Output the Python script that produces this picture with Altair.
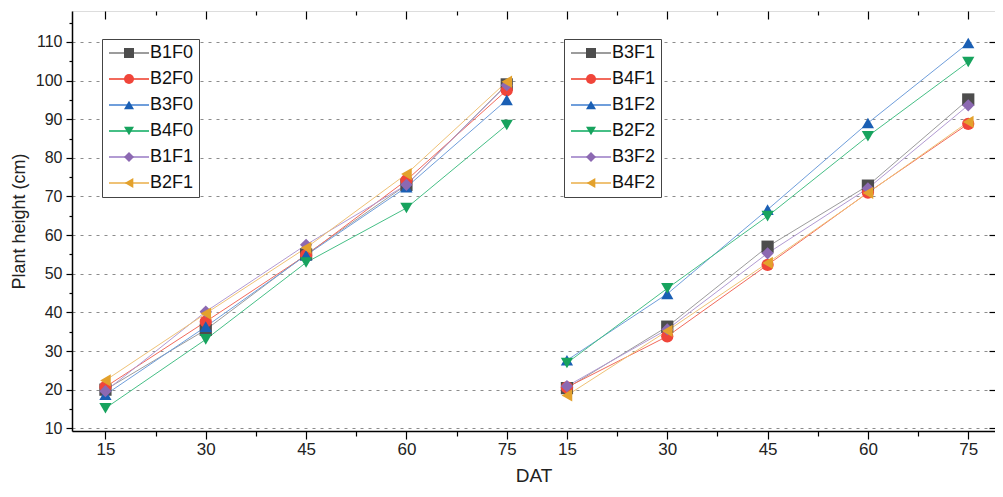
import altair as alt
import pandas as pd

# ---------------- data ----------------
dat = [15, 30, 45, 60, 75]

left_series = ["B1F0", "B2F0", "B3F0", "B4F0", "B1F1", "B2F1"]
right_series = ["B3F1", "B4F1", "B1F2", "B2F2", "B3F2", "B4F2"]

B1F0 = [20.0, 35.5, 55.0, 73.0, 99.0]
B2F0 = [20.7, 37.6, 54.8, 74.2, 97.5]
B3F0 = [18.7, 36.3, 54.8, 72.4, 95.0]
B4F0 = [15.2, 33.0, 52.9, 67.0, 88.5]
B1F1 = [19.6, 40.2, 57.5, 73.0, 98.8]
B2F1 = [22.4, 39.7, 56.7, 75.8, 99.7]

B3F1 = [20.4, 36.3, 57.0, 72.8, 95.1]
B4F1 = [20.6, 33.8, 52.3, 71.0, 88.8]
B1F2 = [27.6, 44.8, 66.6, 89.0, 109.7]
B2F2 = [26.9, 46.2, 64.9, 85.6, 104.8]
B3F2 = [20.9, 35.6, 55.3, 72.1, 93.6]
B4F2 = [18.5, 35.2, 52.8, 70.9, 89.3]

marker_colors = ["#4d4d4d", "#f0453a", "#1a5fb4", "#17a35e", "#8c69b2", "#e3a12c"]
line_colors = ["#9c9c9c", "#f26a5c", "#6f9edb", "#46bf86", "#b29bd3", "#efc276"]
shapes = ["square", "circle", "triangle-up", "triangle-down", "diamond", "triangle-left"]

y_ticks_major = [10, 20, 30, 40, 50, 60, 70, 80, 90, 100, 110]
y_ticks_minor = [15, 25, 35, 45, 55, 65, 75, 85, 95, 105, 115]

# right panel shares the same axis, shifted along it
OFFSET = 69

left_vals = [B1F0, B2F0, B3F0, B4F0, B1F1, B2F1]
right_vals = [B3F1, B4F1, B1F2, B2F2, B3F2, B4F2]

rows_l = []
for s, vals in zip(left_series, left_vals):
    for d, v in zip(dat, vals):
        rows_l.append({"series": s, "dat": d, "pos": d, "value": v})
rows_r = []
for s, vals in zip(right_series, right_vals):
    for d, v in zip(dat, vals):
        rows_r.append({"series": s, "dat": d, "pos": d + OFFSET, "value": v})
df_l = pd.DataFrame(rows_l)
df_r = pd.DataFrame(rows_r)

x_major_vals = dat + [d + OFFSET for d in dat]
x_minor_vals = [22.5, 37.5, 52.5, 67.5] + [v + OFFSET for v in [22.5, 37.5, 52.5, 67.5]]

FONT = "Liberation Sans"
TICKFONT = "Liberation Sans Narrow, Arial Narrow, Liberation Sans"

xscale = alt.Scale(domain=[10, 148], nice=False, zero=False)
yscale = alt.Scale(domain=[9.3, 118], nice=False, zero=False)

ax_x_major = alt.Axis(orient="bottom", values=x_major_vals,
                      labelExpr=f"datum.value <= 80 ? format(datum.value, 'd') : format(datum.value - {OFFSET}, 'd')",
                      tickSize=8, tickColor="black", tickWidth=1.2, domain=True, domainColor="black",
                      domainWidth=1.5, grid=False, labelFont=TICKFONT, labelFontSize=17,
                      labelColor="#222", labelPadding=2, labelFlush=False, labelOverlap=False,
                      title="DAT", titleFont=FONT, titleFontSize=19, titleFontWeight="normal",
                      titleColor="#222", titlePadding=9)
ax_x_minor = alt.Axis(orient="bottom", values=x_minor_vals, labels=False, tickSize=5,
                      tickColor="black", tickWidth=1.2, domain=False, grid=False, title=None)
ax_x_top_major = alt.Axis(orient="top", values=x_major_vals, labels=False, tickSize=8, offset=-8,
                          tickColor="black", tickWidth=1.2, domain=False, grid=False, title=None)
ax_x_top_minor = alt.Axis(orient="top", values=x_minor_vals, labels=False, tickSize=4, offset=-4,
                          tickColor="black", tickWidth=1.2, domain=False, grid=False, title=None)

ax_y_major = alt.Axis(orient="left", values=y_ticks_major, tickSize=6, tickColor="black", tickWidth=1.2,
                      domain=True, domainColor="black", domainWidth=1.5,
                      grid=True, gridDash=[3, 5], gridColor="#8c8c8c", gridWidth=1.2,
                      labelFont=FONT, labelFontSize=16, labelColor="#222", labelPadding=4,
                      title="Plant height (cm)", titleFont=FONT, titleFontSize=18,
                      titleFontWeight="normal", titleColor="#222", titlePadding=7)
ax_y_minor = alt.Axis(orient="left", values=y_ticks_minor, labels=False, tickSize=3, tickColor="black",
                      tickWidth=1.2, domain=False, grid=False, title=None)
ax_y_right = alt.Axis(orient="right", values=y_ticks_major, labels=False, tickSize=6, offset=-6,
                      tickColor="black", tickWidth=1.2, domain=False, grid=False, title=None)


def line_legend(lx, ly):
    return alt.Legend(title=None, orient="none", legendX=lx, legendY=ly,
                      symbolType="M-4,0L4,0", symbolSize=100, symbolStrokeWidth=2,
                      symbolOffset=13, labelOffset=12, labelOpacity=0,
                      labelFont=FONT, labelFontSize=18, rowPadding=8, padding=5,
                      strokeColor="#444", fillColor="white", zindex=1)


def point_legend(lx, ly):
    return alt.Legend(title=None, orient="none", legendX=lx, legendY=ly,
                      symbolSize=100, symbolStrokeWidth=0, symbolOffset=13, labelOffset=12,
                      labelFont=FONT, labelFontSize=18, labelColor="#111", rowPadding=8, padding=5,
                      zindex=2)


left_line = alt.Chart(df_l).mark_line(strokeWidth=1).encode(
    x=alt.X("pos:Q", scale=xscale, axis=ax_x_major),
    y=alt.Y("value:Q", scale=yscale, axis=ax_y_major),
    color=alt.Color("series:N", scale=alt.Scale(domain=left_series, range=line_colors),
                    legend=line_legend(30, 28)),
)
left_pts = alt.Chart(df_l).mark_point(filled=True, size=150, opacity=1).encode(
    x=alt.X("pos:Q", scale=xscale, axis=ax_x_minor),
    y=alt.Y("value:Q", scale=yscale, axis=ax_y_minor),
    color=alt.Color("series:N", scale=alt.Scale(domain=left_series, range=marker_colors),
                    legend=point_legend(30, 28)),
    shape=alt.Shape("series:N", scale=alt.Scale(domain=left_series, range=shapes),
                    legend=point_legend(30, 28)),
)
right_line = alt.Chart(df_r).mark_line(strokeWidth=1).encode(
    x=alt.X("pos:Q", scale=xscale, axis=ax_x_top_major),
    y=alt.Y("value:Q", scale=yscale, axis=ax_y_right),
    color=alt.Color("series:N", scale=alt.Scale(domain=right_series, range=line_colors),
                    legend=line_legend(492, 28)),
)
right_pts = alt.Chart(df_r).mark_point(filled=True, size=150, opacity=1).encode(
    x=alt.X("pos:Q", scale=xscale, axis=ax_x_top_minor),
    y=alt.Y("value:Q", scale=yscale, axis=None),
    color=alt.Color("series:N", scale=alt.Scale(domain=right_series, range=marker_colors),
                    legend=point_legend(492, 28)),
    shape=alt.Shape("series:N", scale=alt.Scale(domain=right_series, range=shapes),
                    legend=point_legend(492, 28)),
)

chart = alt.layer(left_line, left_pts, right_line, right_pts).resolve_scale(
    color="independent", shape="independent"
).resolve_axis(
    x="independent", y="independent"
).properties(
    width=923, height=420,
    autosize=alt.AutoSizeParams(type="none"),
    padding={"left": 64, "top": 3, "right": 0, "bottom": 53},
).configure_view(
    stroke="black", strokeWidth=1.5
).configure(
    font=FONT, background="white"
)

chart.save("out.html", embed_options={"renderer": "svg", "actions": False})
